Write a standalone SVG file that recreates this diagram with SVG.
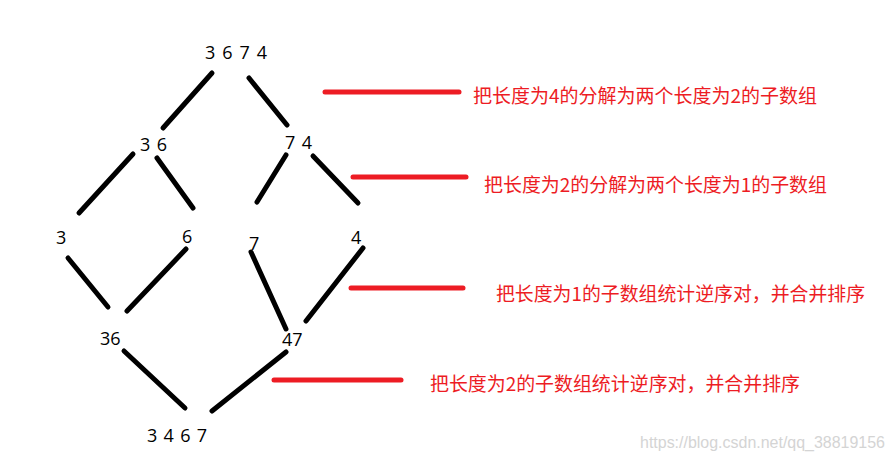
<svg xmlns="http://www.w3.org/2000/svg" width="892" height="460" viewBox="0 0 892 460">
<style>
.num{font-family:"Open Sans","Noto Sans",sans-serif;font-size:18px;fill:#000}
.note{font-family:"Noto Sans CJK SC",sans-serif;font-size:19px;fill:#ed1c24}
.edge{stroke:#000;stroke-width:5;stroke-linecap:round;fill:none}
.mark{stroke:#ed1c24;stroke-width:5;stroke-linecap:round;fill:none}
.wm{font-family:"Liberation Sans",Arial,sans-serif;font-size:16px;fill:#d4d4d4}
</style>
<rect width="892" height="460" fill="#fff"/>
<g id="connectors">
<line class="edge" x1="212" y1="73" x2="163" y2="128"/>
<line class="edge" x1="249" y1="78" x2="287" y2="125"/>
<line class="edge" x1="133" y1="154" x2="79" y2="213"/>
<line class="edge" x1="157" y1="158" x2="193" y2="208"/>
<line class="edge" x1="286" y1="155" x2="257" y2="202"/>
<line class="edge" x1="313" y1="156" x2="358" y2="203"/>
<line class="edge" x1="68" y1="258" x2="108" y2="307"/>
<line class="edge" x1="186" y1="249" x2="127" y2="311"/>
<line class="edge" x1="251" y1="252" x2="286" y2="329"/>
<line class="edge" x1="363" y1="248" x2="306" y2="321"/>
<line class="edge" x1="124" y1="351" x2="185" y2="408"/>
<line class="edge" x1="286" y1="352" x2="212" y2="411"/>
</g>
<g id="n3674"><text class="num" x="205" y="59" textLength="62">3 6 7 4</text></g>
<g id="n36"><text class="num" x="140" y="151" textLength="27">3 6</text></g>
<g id="n74"><text class="num" x="285" y="149" textLength="27">7 4</text></g>
<g id="n3"><text class="num" x="56" y="244">3</text></g>
<g id="n6"><text class="num" x="182" y="243">6</text></g>
<g id="n7"><text class="num" x="249" y="250">7</text></g>
<g id="n4"><text class="num" x="351" y="244">4</text></g>
<g id="m36"><text class="num" x="100" y="345">36</text></g>
<g id="m47"><text class="num" x="282" y="346">47</text></g>
<g id="m3467"><text class="num" x="147" y="442" textLength="60">3 4 6 7</text></g>
<g id="notes">
<line class="mark" x1="325" y1="92" x2="459" y2="92"/>
<text class="note" x="473" y="103" textLength="344" lengthAdjust="spacingAndGlyphs">把长度为4的分解为两个长度为2的子数组</text>
<line class="mark" x1="353" y1="177" x2="466" y2="177"/>
<text class="note" x="484" y="192" textLength="343" lengthAdjust="spacingAndGlyphs">把长度为2的分解为两个长度为1的子数组</text>
<line class="mark" x1="351" y1="288" x2="463" y2="288"/>
<text class="note" x="496" y="301" textLength="369" lengthAdjust="spacingAndGlyphs">把长度为1的子数组统计逆序对，并合并排序</text>
<line class="mark" x1="274" y1="380" x2="401" y2="380"/>
<text class="note" x="430" y="391" textLength="370" lengthAdjust="spacingAndGlyphs">把长度为2的子数组统计逆序对，并合并排序</text>
</g>
<text class="wm" x="640" y="448" textLength="245" lengthAdjust="spacingAndGlyphs">https://blog.csdn.net/qq_38819156</text>
</svg>
